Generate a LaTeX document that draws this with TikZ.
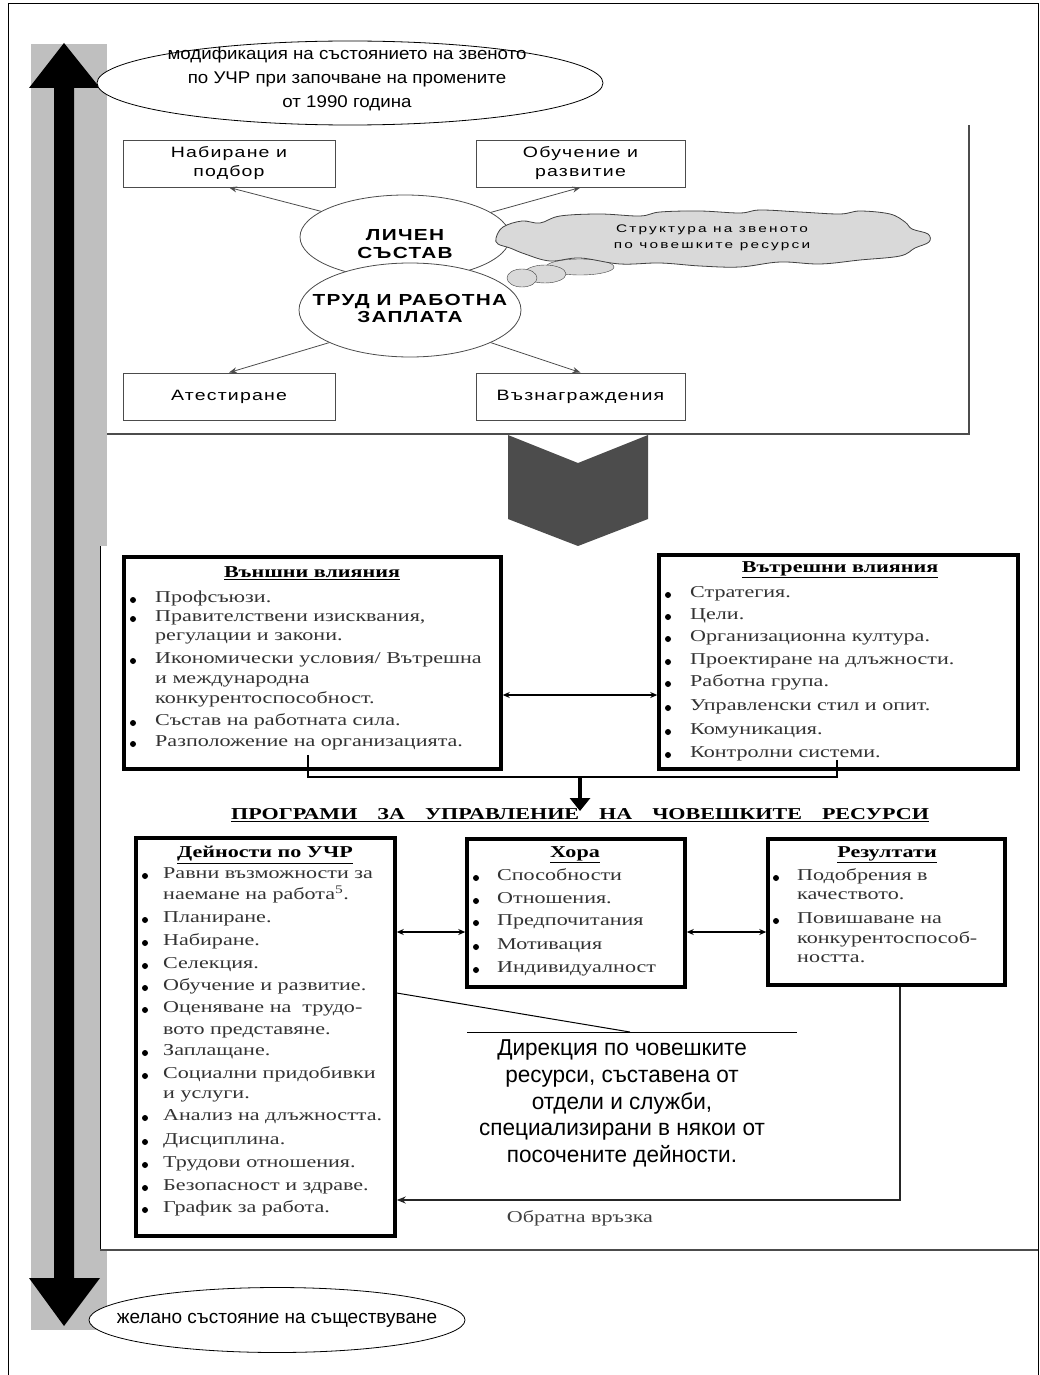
\documentclass[tikz,border=0pt]{standalone}
\usepackage{fontspec}
\setmainfont{Liberation Serif}
\newfontfamily\serifwide[FakeStretch=1.33]{Liberation Serif}
\newfontfamily\sanswide[FakeStretch=1.3,LetterSpace=8]{Liberation Sans}
\newfontfamily\sansplain{Liberation Sans}
\newfontfamily\sansnarrow[FakeStretch=0.98]{Liberation Sans}
\newfontfamily\sanstop[FakeStretch=1.1]{Liberation Sans}
\newfontfamily\sanscloud[FakeStretch=1.4,LetterSpace=20]{Liberation Sans}
\usetikzlibrary{arrows.meta,shapes.geometric}

\begin{document}
\begin{tikzpicture}[x=1pt,y=-1pt,
    oval/.style={ellipse, draw, fill=white, inner sep=0pt, line width=0.8pt},
    sbox/.style={draw=gray!60!black, line width=0.9pt, fill=white, inner sep=0pt,
      align=center, minimum height=47pt, font=\sanswide\fontsize{15}{19}\selectfont},
    spoke/.style={draw=gray!60!black, line width=0.8pt, -{Stealth[length=8pt,width=6pt]}},
    lbox/.style={draw, line width=3.5pt, inner sep=0pt},
    ltitle/.style={inner sep=0pt, font=\serifwide\bfseries\fontsize{16.6}{19}\selectfont},
    ltext/.style={anchor=west, inner sep=0pt, text height=0.7em, text depth=0.2em,
      text=black!80, font=\serifwide\fontsize{16.6}{19}\selectfont},
    twoway/.style={draw, line width=1.2pt, {Stealth[length=7pt,width=6pt]}-{Stealth[length=7pt,width=6pt]}}
  ]
  \useasboundingbox (0,0) rectangle (1040,1375);

  % frame, grey bar and the long arrow
  \draw[line width=1pt] (8,1375) -- (8,4) -- (1038,4) -- (1038,1375);
  \fill[gray!50] (31,44) rectangle (107,1330);
  \fill (64,43) -- (100,88) -- (74,88) -- (74,1278) -- (100,1278) -- (64,1326)
    -- (29,1278) -- (54,1278) -- (54,88) -- (29,88) -- cycle;

  % upper panel
  \draw[draw=gray!60!black, line width=1.2pt] (107,434) -- (969,434) -- (969,125);
  \node[oval, minimum width=506pt, minimum height=84pt] (modif) at (350,83) {};
  \node[align=center, font=\sanstop\fontsize{17}{24}\selectfont] (modiftxt) at (347,79)
    {модификация на състоянието на звеното\\по УЧР при започване на промените\\от 1990 година};

  \node[sbox, minimum width=212pt] (recruit) at (229,163.5) {Набиране и\\подбор};
  \node[sbox, minimum width=209pt] (training) at (580.5,163.5) {Обучение и\\развитие};
  \node[sbox, minimum width=212pt] (appraisal) at (229,396.5) {Атестиране};
  \node[sbox, minimum width=209pt] (rewards) at (580.5,396.5) {Възнаграждения};

  \node[oval, draw=gray!60!black, minimum width=210pt, minimum height=84pt] (staff) at (405,237) {};
  \node[oval, draw=gray!60!black, minimum width=222pt, minimum height=94pt] (labour) at (410,310) {};
  \node[align=center, font=\sanswide\bfseries\fontsize{16}{18}\selectfont] (stafftxt) at (405,244) {ЛИЧЕН\\СЪСТАВ};
  \node[align=center, font=\sanswide\bfseries\fontsize{16}{17}\selectfont] (labourtxt) at (410,308.5) {ТРУД И РАБОТНА\\ЗАПЛАТА};

  \draw[spoke] (staff.163) -- (recruit.south);
  \draw[spoke] (staff.16) -- (training.south);
  \draw[spoke] (labour.202) -- (appraisal.north);
  \draw[spoke] (labour.338) -- (rewards.north);

  % thought cloud
  \foreach \cx/\cy/\rx/\ry in {580/267/34/8, 545/274/21/9, 522/278/15/9}
    \draw[draw=gray!50!black, fill=gray!30] (\cx,\cy) ellipse [x radius=\rx pt, y radius=\ry pt];
  \draw[draw=gray!50!black, fill=gray!30, line width=0.8pt] plot[smooth cycle, tension=0.6] coordinates {
    (496,238) (503,227) (522,221) (540,223) (560,216) (600,214) (640,216) (660,212)
    (700,211) (740,213) (760,210) (800,212) (840,214) (860,211) (890,214) (905,222)
    (912,229) (928,234) (929,242) (915,248) (900,256) (860,260) (820,264) (780,262)
    (740,267) (700,266) (660,263) (620,264) (580,258) (550,261) (525,254) (510,248) (498,244)};
  \node[align=center, font=\sanscloud\fontsize{11}{16}\selectfont] (unittxt) at (712,238)
    {Структура на звеното\\по човешките ресурси};

  % chevron
  \fill[black!70] (508,435) -- (578,463) -- (648,435) -- (648,519) -- (578,546) -- (508,519) -- cycle;

  % lower panel
  \fill[white] (100,546) rectangle (1038,1250);
  \draw[line width=0.8pt] (100,546) -- (100,1250);
  \draw[draw=gray!60!black, line width=2.5pt] (100,1250) -- (1038,1250);

  \node[lbox, minimum width=377pt, minimum height=212pt] (ext) at (312.5,663) {};
  \node[lbox, minimum width=359pt, minimum height=214pt] (int) at (838.5,662) {};
  \node[lbox, minimum width=259pt, minimum height=398pt] (acts) at (265.5,1037) {};
  \node[lbox, minimum width=218pt, minimum height=148pt] (people) at (576,913) {};
  \node[lbox, minimum width=237pt, minimum height=146pt] (results) at (886.5,912) {};

  \node[ltitle] (exttitle) at (312,573) {\underline{Външни влияния}};
  \node[ltitle] (inttitle) at (840,570) {\underline{Вътрешни влияния}};
  \node[ltitle] (actstitle) at (265,855) {\underline{Дейности по УЧР}};
  \node[ltitle] (peopletitle) at (575,855) {\underline{Хора}};
  \node[ltitle] (resultstitle) at (887,855) {\underline{Резултати}};

  \foreach \y/\t [count=\i] in {600/{Профсъюзи.}, 619/{Правителствени изисквания,},
      638/{регулации и закони.}, 661/{Икономически условия/ Вътрешна},
      681/{и международна}, 701/{конкурентоспособност.},
      723/{Състав на работната сила.}, 744/{Разположение на организацията.}}
    \node[ltext] (ext\i) at (155,\y) {\t};
  \foreach \y in {600,619,661,723,744}
    \fill (133,\y) circle (3pt);

  \foreach \y/\t [count=\i] in {595/{Стратегия.}, 617/{Цели.}, 639/{Организационна култура.},
      662/{Проектиране на длъжности.}, 684/{Работна група.},
      708/{Управленски стил и опит.}, 732/{Комуникация.}, 755/{Контролни системи.}}
    {\node[ltext] (int\i) at (690,\y) {\t};
     \fill (668,\y) circle (3pt);}

  \foreach \y/\t [count=\i] in {876/{Равни възможности за}, 897/{наемане на работа\textsuperscript{5}.},
      920/{Планиране.}, 943/{Набиране.}, 966/{Селекция.}, 988/{Обучение и развитие.},
      1010/{Оценяване на\ \ трудо-}, 1032/{вото представяне.}, 1053/{Заплащане.},
      1076/{Социални придобивки}, 1096/{и услуги.}, 1118/{Анализ на длъжността.},
      1142/{Дисциплина.}, 1165/{Трудови отношения.}, 1188/{Безопасност и здраве.},
      1210/{График за работа.}}
    \node[ltext] (acts\i) at (163,\y) {\t};
  \foreach \y in {876,920,943,966,988,1010,1053,1076,1118,1142,1165,1188,1210}
    \fill (145,\y) circle (3pt);

  \foreach \y/\t [count=\i] in {878/{Способности}, 901/{Отношения.}, 923/{Предпочитания},
      947/{Мотивация}, 970/{Индивидуалност}}
    {\node[ltext] (people\i) at (497,\y) {\t};
     \fill (476,\y) circle (3pt);}

  \foreach \y/\t [count=\i] in {878/{Подобрения в}, 897/{качеството.}, 921/{Повишаване на},
      941/{конкурентоспособ-}, 960/{ността.}}
    \node[ltext] (results\i) at (797,\y) {\t};
  \foreach \y in {878,921}
    \fill (776,\y) circle (3pt);

  % links
  \draw[twoway] ([yshift=-32pt]ext.east) -- ([yshift=-33pt]int.west);
  \draw[twoway] ([yshift=-19pt]people.west) -- ([yshift=-19pt]people.west -| acts.east);
  \draw[twoway] ([yshift=-19pt]people.east) -- ([yshift=-19pt]people.east -| results.west);

  \coordinate (merge) at (580,777);
  \draw[line width=1.5pt] ([xshift=-4.5pt,yshift=16pt]ext.south) |- (merge)
    -| ([xshift=-1.5pt,yshift=11pt]int.south);
  \draw[line width=3.5pt, -{Triangle[length=13pt,width=20pt]}] (merge) -- ++(0,34);
  \node[font=\serifwide\bfseries\fontsize{16.6}{19}\selectfont] (hrprog) at (580,815)
    {\underline{ПРОГРАМИ\hspace{20pt}ЗА\hspace{20pt}УПРАВЛЕНИЕ\hspace{20pt}НА\hspace{20pt}ЧОВЕШКИТЕ\hspace{20pt}РЕСУРСИ}};

  \coordinate (fbturn) at (900,1200);
  \draw[line width=2pt, draw=black!85, -{Stealth[length=9pt,width=7pt]}]
    ([xshift=13.5pt]results.south) -- (fbturn) -- (fbturn -| acts.east);
  \node[font=\serifwide\fontsize{16.6}{19}\selectfont, text=black!75] (fbtxt) at (580,1218) {Обратна връзка};

  \coordinate (knee) at (630,1032);
  \coordinate (barL) at (467,1032);
  \coordinate (barR) at (797,1032);
  \draw[line width=1pt] ([yshift=44pt]acts.east) -- (knee);
  \draw[line width=0.8pt] (barL) -- (barR);
  \node[align=center, font=\sansnarrow\fontsize{23}{26.7}\selectfont] (direct) at (622,1103.5)
    {Дирекция по човешките\\ресурси, съставена от\\отдели и служби,\\специализирани в някои от\\посочените дейности.};

  % bottom oval
  \node[oval, minimum width=376pt, minimum height=65pt] (desired) at (277,1320) {};
  \node[font=\sansplain\fontsize{19}{22}\selectfont] (desiredtxt) at (277,1320) {желано състояние на съществуване};
\end{tikzpicture}
\end{document}
